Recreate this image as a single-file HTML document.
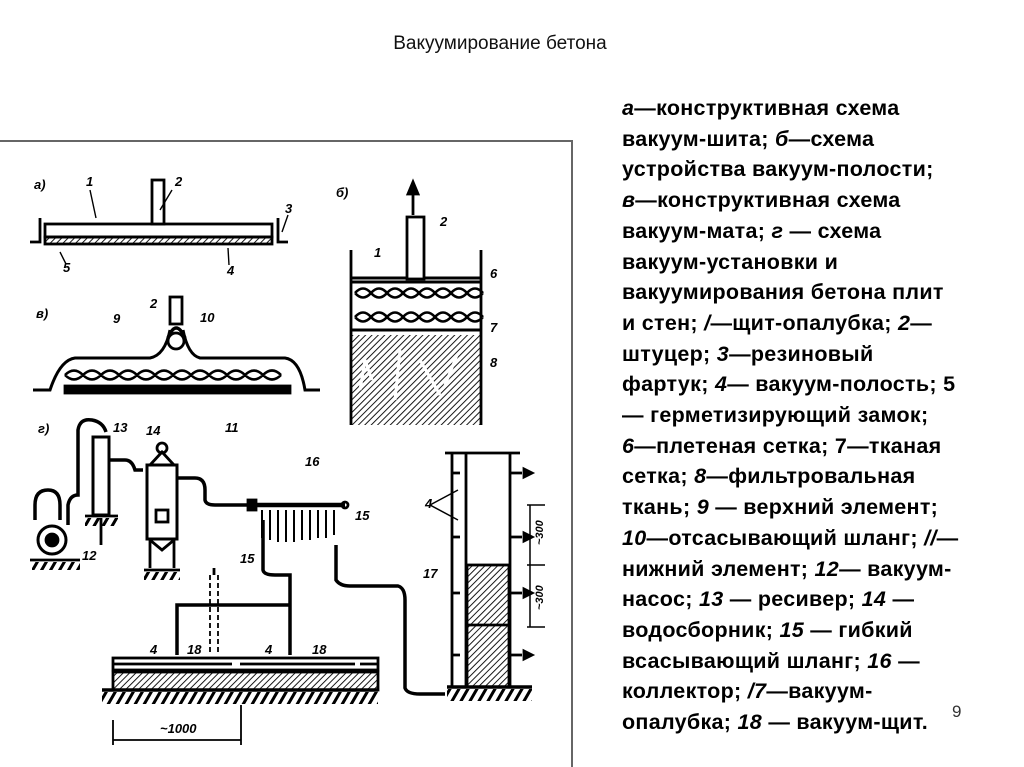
<!DOCTYPE html>
<html><head><meta charset="utf-8"><style>
html,body{margin:0;padding:0;background:#fff;}
body{width:1024px;height:767px;position:relative;overflow:hidden;font-family:"Liberation Sans","DejaVu Sans",sans-serif;}
#title{position:absolute;left:0;width:1000px;top:33px;text-align:center;font-size:19px;color:#111;}
#txt{position:absolute;left:622px;top:93px;font-size:21.5px;font-weight:bold;line-height:30.7px;white-space:nowrap;color:#000;letter-spacing:0.3px;}
#txt i{font-weight:bold;}
#pg{position:absolute;left:952px;top:702px;font-size:17px;color:#333;}
svg{position:absolute;left:0;top:0;}
</style></head><body>
<div id="title">Вакуумирование бетона</div>
<svg width="1024" height="767" viewBox="0 0 1024 767">
<defs>
<pattern id="h" width="4.5" height="4.5" patternUnits="userSpaceOnUse" patternTransform="rotate(45)"><line x1="0" y1="0" x2="0" y2="5" stroke="#000" stroke-width="1.8"/></pattern>
<pattern id="g" width="9" height="10" patternUnits="userSpaceOnUse" patternTransform="skewX(-30)"><rect x="0" y="0" width="3.5" height="10" fill="#000"/></pattern>
</defs>
<g fill="none" stroke="#666" stroke-width="2"><path d="M0 141 H572 V767"/></g>
<g stroke="#000" stroke-width="2.8" fill="none" font-family="Liberation Sans" font-style="italic" font-weight="bold" font-size="13">
<!-- a -->
<text x="34" y="189" stroke="none" fill="#000">а)</text>
<rect x="45" y="224" width="227" height="13"/>
<rect x="45" y="237" width="227" height="7" fill="url(#h)"/>
<rect x="152" y="180" width="12" height="44" fill="#fff"/>
<path d="M30 242 H40 V218 M288 242 H278 V218"/>
<text x="86" y="186" stroke="none" fill="#000">1</text>
<text x="175" y="186" stroke="none" fill="#000">2</text>
<text x="285" y="213" stroke="none" fill="#000">3</text>
<text x="63" y="272" stroke="none" fill="#000">5</text>
<text x="227" y="275" stroke="none" fill="#000">4</text>
<path d="M160 210 L172 190 M96 218 L90 190 M60 252 L66 264 M228 248 L229 265 M282 232 L288 215" stroke-width="1.4"/>
<!-- б -->
<text x="336" y="197" stroke="none" fill="#000">б)</text>
<path d="M413 215 V190"/><path d="M408 194 L413 182 L418 194Z" fill="#000"/>
<path d="M351 250 V425 M481 250 V425"/>
<path d="M351 278 H481 M351 282 H481 M351 330 H481" stroke-width="3"/>
<rect x="407" y="217" width="17" height="62" fill="#fff"/>
<path d="M355 293 q8 -9 16 0 q8 9 16 0 q8 -9 16 0 q8 9 16 0 q8 -9 16 0 q8 9 16 0 q8 -9 16 0 q8 9 16 0 M355 293 q8 9 16 0 q8 -9 16 0 q8 9 16 0 q8 -9 16 0 q8 9 16 0 q8 -9 16 0 q8 9 16 0 q8 -9 16 0" stroke-width="2.6"/>
<path d="M355 317 q8 -9 16 0 q8 9 16 0 q8 -9 16 0 q8 9 16 0 q8 -9 16 0 q8 9 16 0 q8 -9 16 0 q8 9 16 0 M355 317 q8 9 16 0 q8 -9 16 0 q8 9 16 0 q8 -9 16 0 q8 9 16 0 q8 -9 16 0 q8 9 16 0 q8 -9 16 0" stroke-width="2.6"/>
<rect x="351" y="335" width="130" height="90" fill="url(#h)" stroke="none"/>
<path d="M360 390 L365 360 L372 380 M395 400 L400 350 M420 360 L440 395 M445 385 L457 355" stroke="#fff" stroke-width="3"/>
<text x="374" y="257" stroke="none" fill="#000">1</text>
<text x="440" y="226" stroke="none" fill="#000">2</text>
<text x="490" y="278" stroke="none" fill="#000">6</text>
<text x="490" y="332" stroke="none" fill="#000">7</text>
<text x="490" y="367" stroke="none" fill="#000">8</text>
<!-- в -->
<text x="36" y="318" stroke="none" fill="#000">в)</text>
<path d="M33 390 H50 Q60 360 75 358 H150 Q165 355 170 330 M183 330 Q188 355 200 358 H285 Q300 360 305 390 H320" stroke-width="3"/>
<path d="M168 338 Q176 318 185 338" stroke-width="3.5"/>
<circle cx="176" cy="341" r="8"/>
<rect x="170" y="297" width="12" height="27" fill="#fff"/>
<path d="M65 375 q9 -9 18 0 q9 9 18 0 q9 -9 18 0 q9 9 18 0 q9 -9 18 0 q9 9 18 0 q9 -9 18 0 q9 9 18 0 q9 -9 18 0 q9 9 18 0 q9 -9 18 0 q9 9 18 0 M65 375 q9 9 18 0 q9 -9 18 0 q9 9 18 0 q9 -9 18 0 q9 9 18 0 q9 -9 18 0 q9 9 18 0 q9 -9 18 0 q9 9 18 0 q9 -9 18 0 q9 9 18 0 q9 -9 18 0" stroke-width="2.6"/>
<rect x="65" y="386" width="225" height="7" fill="#000"/>
<text x="150" y="308" stroke="none" fill="#000">2</text>
<text x="200" y="322" stroke="none" fill="#000">10</text>
<text x="113" y="323" stroke="none" fill="#000">9</text>
<text x="225" y="432" stroke="none" fill="#000">11</text>
<!-- г -->
<text x="38" y="433" stroke="none" fill="#000">г)</text>
<circle cx="52" cy="540" r="14" stroke-width="3"/><circle cx="52" cy="540" r="6" fill="#000"/>
<path d="M35 520 V505 Q35 490 48 490 Q60 490 60 505 V520 M68 525 V505 Q70 495 78 495 V430 Q80 418 92 420 Q103 422 106 432" stroke-width="3.5"/>
<path d="M30 560 H80"/><rect x="32" y="562" width="48" height="8" fill="url(#g)" stroke="none"/>
<rect x="93" y="437" width="16" height="78" fill="#fff" stroke-width="3"/>
<path d="M85 516 H118"/><rect x="85" y="518" width="33" height="8" fill="url(#g)" stroke="none"/>
<path d="M101 518 V545"/>
<path d="M110 460 H125 Q132 460 135 470 H143" stroke-width="3.5"/>
<rect x="147" y="465" width="30" height="74" fill="#fff" stroke-width="3"/>
<circle cx="162" cy="448" r="5"/><path d="M150 465 L162 452 L174 465"/>
<rect x="156" y="510" width="12" height="12"/>
<path d="M150 540 V568 M174 540 V568 M150 540 L162 550 L174 540"/>
<path d="M144 570 H180"/><rect x="144" y="572" width="36" height="8" fill="url(#g)" stroke="none"/>
<path d="M177 478 H195 Q205 478 205 490 V500 Q206 505 215 505 H248" stroke-width="3.5"/>
<rect x="248" y="500" width="8" height="10" fill="#000"/>
<path d="M256 505 H345" stroke-width="4.5"/>
<circle cx="345" cy="505" r="3"/>
<path d="M262 510 V538 M270 510 V540 M278 510 V542 M286 510 V542 M294 510 V542 M302 510 V540 M310 510 V540 M318 510 V538 M326 510 V538 M334 510 V535" stroke-width="2"/>
<path d="M263 520 V570 Q264 575 275 575 H290 V655 M177 655 V605 H290 M336 545 V580 Q340 586 350 586 H398 Q405 588 405 600 V688 Q407 694 420 694 H445" stroke-width="3.5"/>
<path d="M210 575 V655 M218 575 V655" stroke-width="1.8" stroke-dasharray="5 3"/>
<path d="M214 568 V575"/>
<rect x="113" y="658" width="265" height="12" fill="#fff"/>
<path d="M113 664 H232 M240 664 H355 M360 664 H378"/>
<rect x="113" y="672" width="265" height="18" fill="url(#h)"/>
<path d="M102 690 H378" stroke-width="3.5"/><rect x="102" y="692" width="276" height="12" fill="url(#g)" stroke="none"/>
<path d="M113 720 V745 M241 705 V745 M113 740 H241" stroke-width="1.8"/>
<text x="160" y="733" stroke="none" fill="#000">~1000</text>
<text x="150" y="654" stroke="none" fill="#000">4</text>
<text x="187" y="654" stroke="none" fill="#000">18</text>
<text x="265" y="654" stroke="none" fill="#000">4</text>
<text x="312" y="654" stroke="none" fill="#000">18</text>
<text x="305" y="466" stroke="none" fill="#000">16</text>
<text x="355" y="520" stroke="none" fill="#000">15</text>
<text x="240" y="563" stroke="none" fill="#000">15</text>
<text x="82" y="560" stroke="none" fill="#000">12</text>
<text x="113" y="432" stroke="none" fill="#000">13</text>
<text x="146" y="435" stroke="none" fill="#000">14</text>
<!-- wall -->
<path d="M445 453 H520 M452 453 V687 M466 453 V687 M510 453 V687"/>
<rect x="467" y="565" width="42" height="122" fill="url(#h)"/>
<path d="M467 625 H509"/>
<path d="M447 687 H532" stroke-width="3.5"/><rect x="447" y="689" width="85" height="12" fill="url(#g)" stroke="none"/>
<path d="M452 473 H460 M452 537 H460 M452 593 H460 M452 655 H460 M510 473 H522 M510 537 H522 M510 593 H522 M510 655 H522"/>
<path d="M524 469 L532 473 L524 477Z M524 533 L532 537 L524 541Z M524 589 L532 593 L524 597Z M524 651 L532 655 L524 659Z" fill="#000"/>
<path d="M430 505 L458 490 M430 505 L458 520" stroke-width="1.5"/>
<text x="425" y="508" stroke="none" fill="#000">4</text>
<text x="423" y="578" stroke="none" fill="#000">17</text>
<path d="M530 505 V627 M527 565 H545 M527 505 H545 M527 627 H545" stroke-width="1.5"/>
<text transform="translate(543 545) rotate(-90)" stroke="none" fill="#000" font-size="11">~300</text>
<text transform="translate(543 610) rotate(-90)" stroke="none" fill="#000" font-size="11">~300</text>
</g>
</svg>
<div id="txt"><i>а</i>—конструктивная схема<br>вакуум-шита; <i>б</i>—схема<br>устройства вакуум-полости;<br><i>в</i>—конструктивная схема<br>вакуум-мата; <i>г</i> — схема<br>вакуум-установки и<br>вакуумирования бетона плит<br>и стен; <i>/</i>—щит-опалубка; <i>2</i>—<br>штуцер; <i>3</i>—резиновый<br>фартук; <i>4</i>— вакуум-полость; 5<br>— герметизирующий замок;<br><i>6</i>—плетеная сетка; 7—тканая<br>сетка; <i>8</i>—фильтровальная<br>ткань; <i>9</i> — верхний элемент;<br><i>10</i>—отсасывающий шланг; <i>//</i>—<br>нижний элемент; <i>12</i>— вакуум-<br>насос; <i>13</i> — ресивер; <i>14</i> —<br>водосборник; <i>15</i> — гибкий<br>всасывающий шланг; <i>16</i> —<br>коллектор; <i>/7</i>—вакуум-<br>опалубка; <i>18</i> — вакуум-щит.</div>
<div id="pg">9</div>
</body></html>
